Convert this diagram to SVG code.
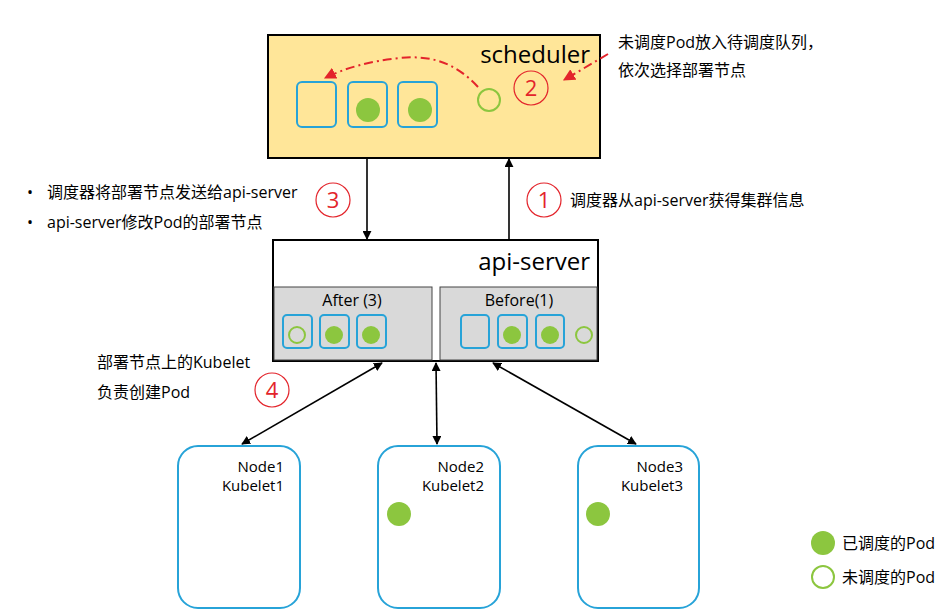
<svg xmlns="http://www.w3.org/2000/svg" width="948" height="616" viewBox="0 0 948 616">
<defs>
<style>
.t{font-family:"Open Sans","Noto Sans CJK SC",sans-serif;fill:#000}
.big{font-size:24px}
.m{font-size:16px}
.s{font-size:15px}
.pod{fill:#fff;stroke:#27a3d8;stroke-width:2}
.podF{fill:none;stroke:#27a3d8;stroke-width:2}
.g{fill:#8cc63f}
.h{fill:none;stroke:#8cc63f;stroke-width:2}
.num{fill:none;stroke:#e3242b;stroke-width:1.2}
.numt{font-family:"Open Sans","Liberation Sans",sans-serif;font-size:22px;fill:#e3242b}
.ln{stroke:#000;stroke-width:1.6;fill:none}
.node{fill:#fff;stroke:#27a3d8;stroke-width:2}
.dd{stroke:#e3242b;stroke-width:2;fill:none;stroke-dasharray:9 4 2 4}
</style>
<marker id="ah" viewBox="0 0 10 10" refX="9" refY="5" markerWidth="9" markerHeight="9" orient="auto-start-reverse" markerUnits="userSpaceOnUse">
<path d="M0,0 L10,5 L0,10 z" fill="#000"/>
</marker>
<marker id="rh" viewBox="0 0 10 10" refX="9" refY="5" markerWidth="12" markerHeight="12" orient="auto" markerUnits="userSpaceOnUse">
<path d="M0,0 L10,5 L0,10 z" fill="#e3242b"/>
</marker>
</defs>
<rect width="948" height="616" fill="#fff"/>

<g id="scheduler">
<rect x="268" y="35" width="332" height="123" fill="#ffe699" stroke="#000" stroke-width="2"/>
<text class="t big" x="590" y="63" text-anchor="end">scheduler</text>
<rect class="podF" x="297" y="82" width="39" height="45" rx="5"/>
<rect class="podF" x="348" y="82" width="39" height="45" rx="5"/>
<rect class="podF" x="398" y="82" width="39" height="45" rx="5"/>
<circle class="g" cx="368" cy="110" r="12"/>
<circle class="g" cx="420" cy="110" r="12"/>
<circle class="h" cx="489" cy="100" r="11"/>
<circle class="num" cx="531" cy="88" r="17"/>
<text class="numt" x="531" y="96" text-anchor="middle">2</text>
</g>

<g id="note2">
<text class="t m" x="618" y="48">未调度Pod放入待调度队列，</text>
<text class="t m" x="618" y="76">依次选择部署节点</text>
</g>

<g id="apiserver">
<rect x="273" y="240" width="325" height="121" fill="#fff" stroke="#000" stroke-width="2"/>
<text class="t big" x="590" y="270" text-anchor="end">api-server</text>
<rect x="274" y="287" width="158" height="73" fill="#d9d9d9" stroke="#444" stroke-width="1"/>
<rect x="440" y="287" width="157" height="73" fill="#d9d9d9" stroke="#444" stroke-width="1"/>
<text class="t m" x="352" y="306" text-anchor="middle">After (3)</text>
<text class="t m" x="519" y="306" text-anchor="middle">Before(1)</text>
<rect class="podF" x="283" y="315" width="29" height="33" rx="4"/>
<rect class="podF" x="320" y="315" width="29" height="33" rx="4"/>
<rect class="podF" x="357" y="315" width="29" height="33" rx="4"/>
<circle class="h" cx="297" cy="335" r="8"/>
<circle class="g" cx="334" cy="335" r="9"/>
<circle class="g" cx="371" cy="335" r="9"/>
<rect class="podF" x="461" y="315" width="28" height="33" rx="4"/>
<rect class="podF" x="498" y="315" width="29" height="33" rx="4"/>
<rect class="podF" x="536" y="315" width="28" height="33" rx="4"/>
<circle class="g" cx="512" cy="335" r="9"/>
<circle class="g" cx="550" cy="335" r="9"/>
<circle class="h" cx="584" cy="335" r="8"/>
</g>

<g id="step1">
<circle class="num" cx="544" cy="200" r="17"/>
<text class="numt" x="544" y="208" text-anchor="middle">1</text>
<text class="t m" x="570" y="206">调度器从api-server获得集群信息</text>
</g>

<g id="step3">
<circle class="num" cx="333" cy="200" r="17"/>
<text class="numt" x="333" y="208" text-anchor="middle">3</text>
<text class="t m" x="27" y="198">•</text>
<text class="t m" x="47" y="198">调度器将部署节点发送给api-server</text>
<text class="t m" x="27" y="228">•</text>
<text class="t m" x="47" y="228">api-server修改Pod的部署节点</text>
</g>

<g id="step4">
<circle class="num" cx="272" cy="390" r="17"/>
<text class="numt" x="272" y="398" text-anchor="middle">4</text>
<text class="t m" x="97" y="368">部署节点上的Kubelet</text>
<text class="t m" x="97" y="398">负责创建Pod</text>
</g>

<g id="node1">
<rect class="node" x="178" y="446" width="122" height="162" rx="20"/>
<text class="t s" x="284" y="472" text-anchor="end">Node1</text>
<text class="t s" x="284" y="491" text-anchor="end">Kubelet1</text>
</g>
<g id="node2">
<rect class="node" x="378" y="446" width="122" height="162" rx="20"/>
<text class="t s" x="484" y="472" text-anchor="end">Node2</text>
<text class="t s" x="484" y="491" text-anchor="end">Kubelet2</text>
<circle class="g" cx="399" cy="514" r="12"/>
</g>
<g id="node3">
<rect class="node" x="578" y="446" width="121" height="162" rx="20"/>
<text class="t s" x="683" y="472" text-anchor="end">Node3</text>
<text class="t s" x="683" y="491" text-anchor="end">Kubelet3</text>
<circle class="g" cx="598" cy="514" r="12"/>
</g>

<g id="legend">
<circle class="g" cx="823" cy="543" r="12"/>
<text class="t m" x="842" y="549">已调度的Pod</text>
<circle class="h" cx="823" cy="577" r="11"/>
<text class="t m" x="842" y="583">未调度的Pod</text>
</g>

<g id="connectors">
<line class="ln" x1="367" y1="158" x2="367" y2="239" marker-end="url(#ah)"/>
<line class="ln" x1="509" y1="240" x2="509" y2="159" marker-end="url(#ah)"/>
<line class="ln" x1="382" y1="363" x2="242" y2="444" marker-start="url(#ah)" marker-end="url(#ah)"/>
<line class="ln" x1="436" y1="363" x2="437" y2="444" marker-start="url(#ah)" marker-end="url(#ah)"/>
<line class="ln" x1="493" y1="363" x2="636" y2="444" marker-start="url(#ah)" marker-end="url(#ah)"/>
<path class="dd" d="M478,87 C455,62 430,55 400,58 C370,61 345,68 325,78" marker-end="url(#rh)"/>
<path class="dd" d="M608,54 L564,80" marker-end="url(#rh)"/>
</g>
</svg>
